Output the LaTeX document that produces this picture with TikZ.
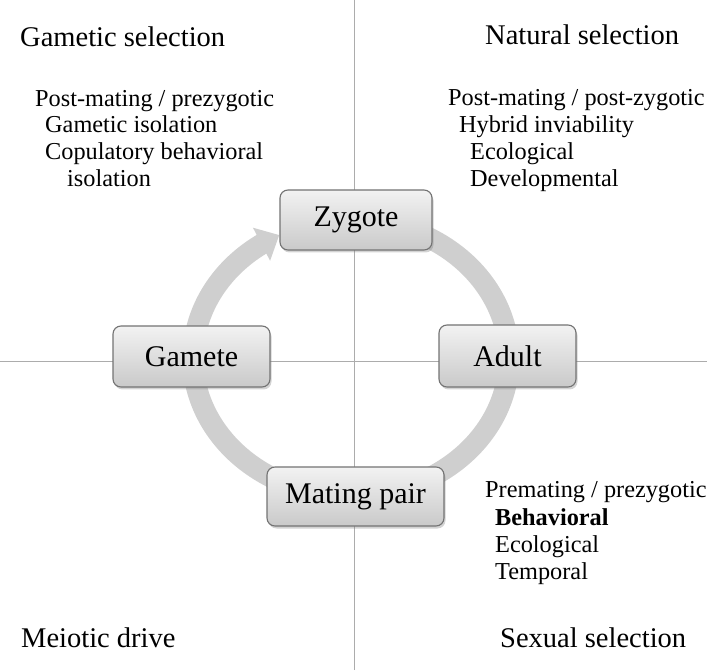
\documentclass[tikz,border=0pt]{standalone}
\usepackage{fontspec}
\setmainfont{Liberation Serif}
\usetikzlibrary{arrows.meta,bending,shadows}

\begin{document}
\begin{tikzpicture}[x=1pt,y=1pt,
		stage/.style={draw=black!55, line width=1.1pt, rounded corners=8pt,
			top color=gray!10, bottom color=gray!42, inner sep=0pt,
			font=\fontsize{30}{36}\selectfont,
			drop shadow={shadow xshift=1.5pt, shadow yshift=-2.5pt, opacity=.35}},
		heading/.style={anchor=base west, inner sep=0pt, font=\fontsize{28.5}{34}\selectfont},
		item/.style={anchor=base west, inner sep=0pt, font=\fontsize{24.3}{29}\selectfont},
		quadrant/.style={gray!65, line width=0.8pt}]
	\useasboundingbox (0,0) rectangle (707,670);
	
	% quadrant lines
	\draw[quadrant] (354,0) -- (354,670);
	\draw[quadrant] (0,309) -- (707,309);
	
	% life cycle ring, ending in the arrow into the zygote
	\coordinate (hub) at (351,312);
	\draw[gray!38, line width=21pt, -{Triangle[width=36pt,length=20pt]}] (hub) ++(80:158 and 138) arc[start angle=80, end angle=-243, x radius=158, y radius=138];
	
	% stages
	\node[stage, minimum width=152pt, minimum height=60pt] (zygote) at (356,450) {Zygote};
	\node[stage, minimum width=157pt, minimum height=61pt] (gamete) at (191.5,313.5) {Gamete};
	\node[stage, minimum width=137pt, minimum height=62pt] (adult) at (507.5,314) {Adult};
	\node[stage, minimum width=177pt, minimum height=59pt] (matingpair) at (355.5,173.5) {Mating pair};
	
	% selection in each quarter
	\node[heading] (gametic) at (20,623) {Gametic selection};
	\node[heading] (natural) at (485,625) {Natural selection};
	\node[heading] (meiotic) at (21,23) {Meiotic drive};
	\node[heading] (sexual) at (500,23) {Sexual selection};
	
	% barriers
	\node[item] (postpre) at (35,563) {Post-mating / prezygotic};
	\node[item] (gamiso) at (45,537) {Gametic isolation};
	\node[item] (copul) at (45,510) {Copulatory behavioral};
	\node[item] (copuliso) at (67,483) {isolation};
	
	\node[item] (postpost) at (448,564) {Post-mating / post-zygotic};
	\node[item] (hybrid) at (459,537) {Hybrid inviability};
	\node[item] (ecohyb) at (470,510) {Ecological};
	\node[item] (develop) at (470,483) {Developmental};
	
	\node[item] (prepre) at (485,172) {Premating / prezygotic};
	\node[item] (behav) at (495,145) {\textbf{Behavioral}};
	\node[item] (ecopre) at (495,118) {Ecological};
	\node[item] (tempo) at (495,91) {Temporal};
\end{tikzpicture}
\end{document}
